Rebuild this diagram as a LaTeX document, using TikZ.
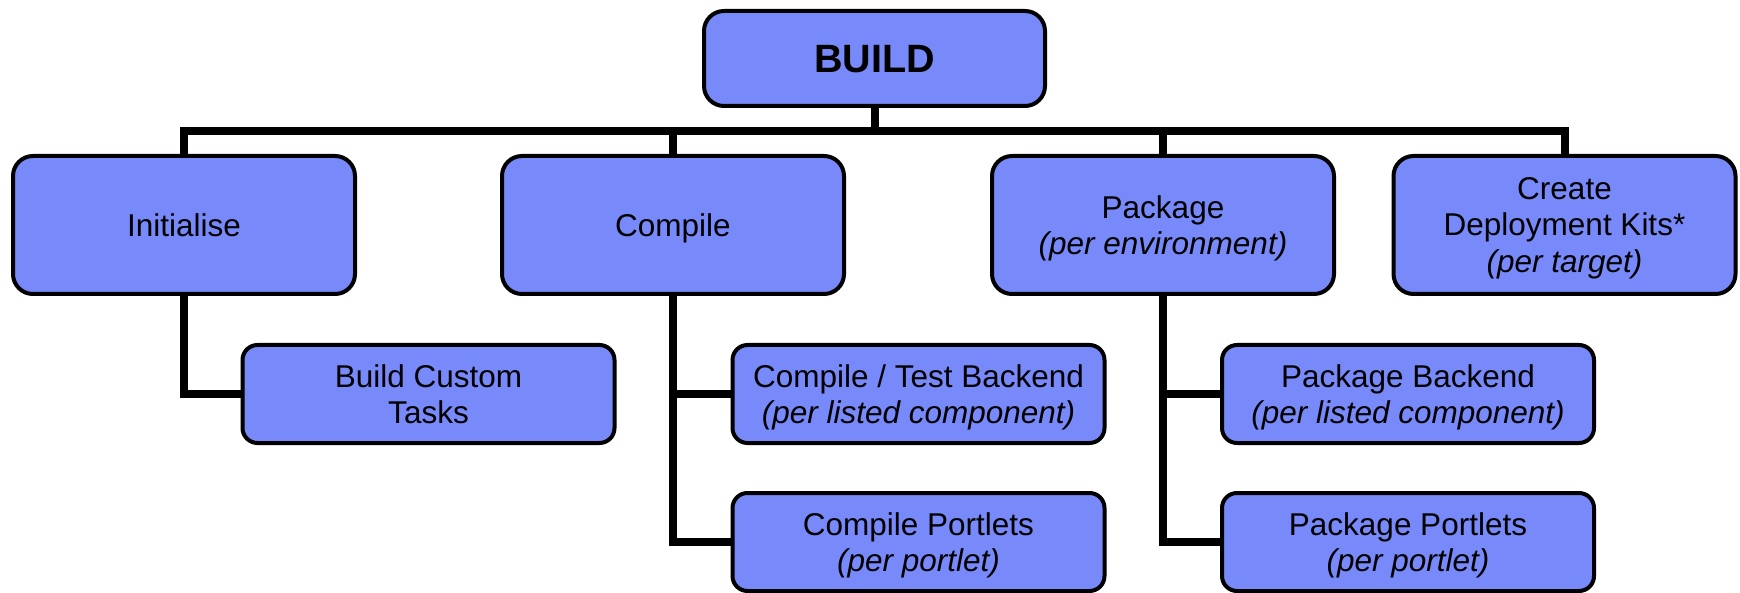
\documentclass[tikz,border=0pt]{standalone}
\usepackage{fontspec}
\setmainfont{Liberation Sans}
\definecolor{boxfill}{RGB}{120,137,250}
\begin{document}
\begin{tikzpicture}[x=1pt,y=-1pt,
  box/.style={draw=black,line width=4pt,fill=boxfill,rounded corners=20pt,
    inner sep=0pt,outer sep=0pt,align=center,text depth=0pt,
    font=\fontsize{31.5}{36.5}\selectfont},
  topbox/.style={box,minimum width=342pt,minimum height=138pt},
  subbox/.style={box,rounded corners=15pt,minimum width=372pt,minimum height=98pt},
  conn/.style={line width=8pt,line join=miter}]
\useasboundingbox (0,0) rectangle (1740,593);
\coordinate (bar) at (874,131);
% nodes
\node[box,minimum width=341pt,minimum height=95pt,font=\fontsize{39.5}{45}\selectfont\bfseries] (build) at (874.5,58.5) {BUILD};
\node[topbox] (init) at (184,225) {Initialise};
\node[topbox] (comp) at (673,225) {Compile};
\node[topbox] (pack) at (1163,225) {Package\\\textit{(per environment)}};
\node[topbox] (kits) at (1564.5,225) {Create\\Deployment Kits*\\\textit{(per target)}};
\node[subbox] (bct) at (428.5,394) {Build Custom\\Tasks};
\node[subbox] (ctb) at (918.5,394) {Compile / Test Backend\\\textit{(per listed component)}};
\node[subbox] (cpo) at (918.5,542) {Compile Portlets\\\textit{(per portlet)}};
\node[subbox] (pba) at (1408,394) {Package Backend\\\textit{(per listed component)}};
\node[subbox] (ppo) at (1408,542) {Package Portlets\\\textit{(per portlet)}};
% connectors
\draw[conn] (build.south) -- (build.south |- bar);
\draw[conn] (init.north) |- (bar) -| (kits.north);
\draw[conn] (comp.north) -- (comp.north |- bar);
\draw[conn] (pack.north) -- (pack.north |- bar);
\draw[conn] (init.south) |- (bct.west);
\draw[conn] (comp.south) |- (ctb.west);
\draw[conn] (comp.south) |- (cpo.west);
\draw[conn] (pack.south) |- (pba.west);
\draw[conn] (pack.south) |- (ppo.west);
\end{tikzpicture}
\end{document}
